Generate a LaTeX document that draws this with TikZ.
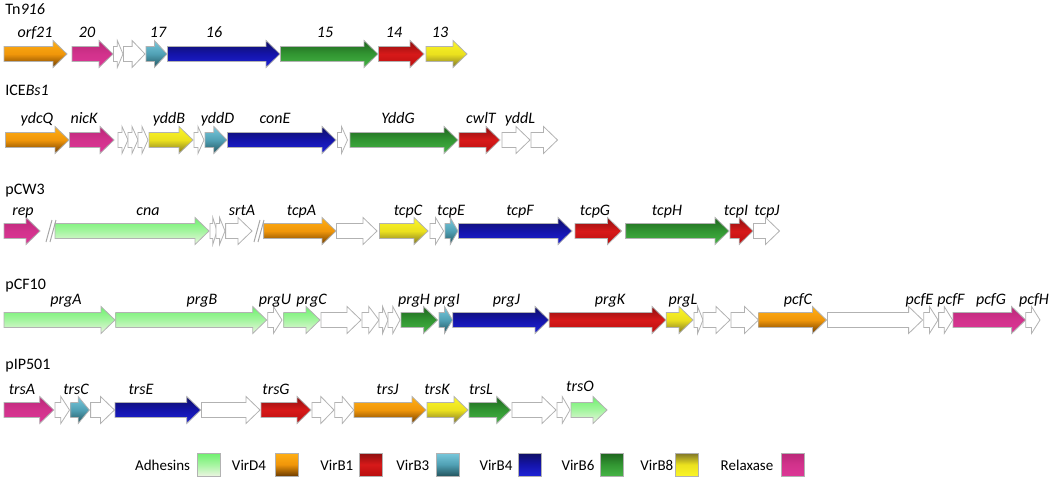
\documentclass[tikz,border=0pt]{standalone}
\usepackage{fontspec}
\setmainfont{Carlito}

\definecolor{adhTop}{RGB}{110,240,110}
\definecolor{adhMid}{RGB}{165,245,160}
\definecolor{adhBot}{RGB}{235,245,225}
\definecolor{dFourTop}{RGB}{255,175,20}
\definecolor{dFourMid}{RGB}{240,150,10}
\definecolor{dFourBot}{RGB}{110,60,0}
\definecolor{bOneTop}{RGB}{140,15,15}
\definecolor{bOneMid}{RGB}{215,25,25}
\definecolor{bOneBot}{RGB}{185,15,15}
\definecolor{bThreeTop}{RGB}{120,200,220}
\definecolor{bThreeMid}{RGB}{80,160,180}
\definecolor{bThreeBot}{RGB}{35,85,95}
\definecolor{bFourTop}{RGB}{15,15,100}
\definecolor{bFourMid}{RGB}{20,20,170}
\definecolor{bFourBot}{RGB}{30,35,215}
\definecolor{bSixTop}{RGB}{30,100,30}
\definecolor{bSixMid}{RGB}{50,150,50}
\definecolor{bSixBot}{RGB}{70,180,70}
\definecolor{bEightTop}{RGB}{250,245,40}
\definecolor{bEightMid}{RGB}{235,225,30}
\definecolor{bEightBot}{RGB}{125,115,40}
\definecolor{relTop}{RGB}{185,40,120}
\definecolor{relMid}{RGB}{210,50,140}
\definecolor{relBot}{RGB}{220,55,150}

% one gene arrow: start, end, row, style
\newcommand{\gene}[4]{%
  \pgfmathsetmacro{\hl}{min(14,0.6*(#2-#1))}%
  \pgfmathsetmacro{\hx}{#2-\hl}%
  \draw[gene,#4] (#1,#3-7.5) -- (\hx,#3-7.5) -- (\hx,#3-13.5) -- (#2,#3)
    -- (\hx,#3+13.5) -- (\hx,#3+7.5) -- (#1,#3+7.5) -- cycle;%
}

\begin{document}
\begin{tikzpicture}[x=0.5pt,y=-0.5pt,font=\fontsize{8}{9.6}\selectfont,
  gene/.style={draw=black!30,line width=0.4pt},
  blank/.style={fill=white,draw=gray!60},
  adhes/.style={top color=adhTop,bottom color=adhBot,middle color=adhMid},
  virD4/.style={top color=dFourTop,bottom color=dFourBot,middle color=dFourMid},
  virB1/.style={top color=bOneTop,bottom color=bOneBot,middle color=bOneMid},
  virB3/.style={top color=bThreeTop,bottom color=bThreeBot,middle color=bThreeMid},
  virB4/.style={top color=bFourTop,bottom color=bFourBot,middle color=bFourMid},
  virB6/.style={top color=bSixTop,bottom color=bSixBot,middle color=bSixMid},
  virB8/.style={top color=bEightTop,bottom color=bEightBot,middle color=bEightMid},
  virB8k/.style={virB8,shading angle=180},
  relax/.style={top color=relTop,bottom color=relBot,middle color=relMid},
  lbl/.style={anchor=base,inner sep=0pt,font=\fontsize{8}{9.6}\selectfont\itshape},
  ttl/.style={anchor=base west,inner sep=0pt},
  cut/.style={draw=gray!70,line width=0.5pt}]

\useasboundingbox (0,0) rectangle (1050,481);

% Tn916
\begin{scope}
\node[ttl] (t1) at (5,15) {Tn\textit{916}};
\foreach \a/\b/\s in {4/67/virD4,72/113/relax,113.5/123/blank,123.5/145/blank,146/167/virB3,
  167.5/280/virB4,280.5/378/virB6,378.5/424/virB1,426/467/virB8}
  \gene{\a}{\b}{54}{\s};
\foreach \x/\t [count=\i] in {35/orf21,87/20,158/17,214/16,325/15,394/14,440/13}
  \node[lbl] (g1-\i) at (\x,38) {\t};
\end{scope}

% ICEBs1
\begin{scope}
\node[ttl] (t2) at (5,96) {ICE\textit{Bs1}};
\foreach \a/\b/\s in {5.5/69/virD4,69.5/114/relax,118/128/blank,128/138/blank,138/148/blank,
  149/193/virB8,194/204/blank,205/227/virB3,227.5/336/virB4,337.5/347.5/blank,
  350/458/virB6,459/500/virB1,502/530/blank,531/557.5/blank}
  \gene{\a}{\b}{140}{\s};
\foreach \x/\t [count=\i] in {37/ydcQ,84/nicK,169/yddB,217.5/yddD,275/conE,398/YddG,481/cwlT,520/yddL}
  \node[lbl] (g2-\i) at (\x,124) {\t};
\end{scope}

% pCW3
\begin{scope}
\node[ttl] (t3) at (5,194) {pCW3};
\foreach \a/\b/\s in {4/40/relax,55/209/adhes,210/217/blank,216/225/blank,225.6/252/blank,
  263.6/336/virD4,336.5/377/blank,379.5/428/virB8,430/443.6/blank,445/458/virB3,
  458.5/572/virB4,575/621.5/virB1,625.6/729/virB6,730/753/virB1,753.5/779.5/blank}
  \gene{\a}{\b}{231}{\s};
\foreach \x/\t [count=\i] in {23/rep,148/cna,242/srtA,301.5/tcpA,408/tcpC,451/tcpE,520/tcpF,
  595/tcpG,667/tcpH,736/tcpI,767/tcpJ}
  \node[lbl] (g3-\i) at (\x,215) {\t};
% breaks in the map
\coordinate (c1) at (46,242);
\coordinate (c2) at (254,242);
\foreach \c in {c1,c2}{
  \draw[cut] (\c) -- ++(6,-22);
  \draw[cut] ([xshift=2pt]\c) -- ++(6,-22);
}
\end{scope}

% pCF10
\begin{scope}
\node[ttl] (t4) at (5,289) {pCF10};
\foreach \a/\b/\s in {4/115/adhes,115.7/266.7/adhes,267.7/282/blank,283.7/320/adhes,
  321/361/blank,362/379/blank,379/388/blank,388/400/blank,401/437.6/virB6,439/452.6/virB3,
  452.8/549/virB4,549.2/666/virB1,666.2/693/virB8,694/703/blank,703/730/blank,731/758.5/blank,
  758.7/826.5/virD4,827.5/922.6/blank,923.7/938/blank,938.6/952.6/blank,953/1025.6/relax,
  1025.8/1040/blank}
  \gene{\a}{\b}{320}{\s};
\foreach \x/\t [count=\i] in {66/prgA,202/prgB,275/prgU,311.5/prgC,414/prgH,447/prgI,506.5/prgJ,
  610/prgK,683/prgL,798/pcfC,919.5/pcfE,951/pcfF,991/pcfG,1034/pcfH}
  \node[lbl] (g4-\i) at (\x,304) {\t};
\end{scope}

% pIP501
\begin{scope}
\node[ttl] (t5) at (5,369) {pIP501};
\foreach \a/\b/\s in {4/53.7/relax,55/69.5/blank,70.7/89.4/virB3,90.6/114.5/blank,
  115/200.7/virB4,201.5/260/blank,261/311/virB1,312/334/blank,334.7/353.7/blank,
  354/426/virD4,427/468/virB8,469/510.7/virB6,512/556/blank,557/570/blank,571/607/adhes}
  \gene{\a}{\b}{410}{\s};
\foreach \x/\t [count=\i] in {22/trsA,76/trsC,141/trsE,276/trsG,387.5/trsJ,437/trsK,481/trsL}
  \node[lbl] (g5-\i) at (\x,394) {\t};
\node[lbl] (g5-8) at (580,391) {trsO};
\end{scope}

% legend
\foreach \t/\tx/\bx/\s [count=\i] in {Adhesins/162.6/197/adhes,VirD4/249/275.7/virD4,
  VirB1/336.8/359/virB1,VirB3/412.8/436/virB3,VirB4/496/518/virB4,VirB6/578/600/virB6,
  VirB8/656.8/675.4/virB8k,Relaxase/747/781.7/relax}{
  \node[anchor=base,inner sep=0pt,font=\fontsize{7.5}{9}\selectfont] (k\i) at (\tx,470) {\t};
  \draw[gene,\s] (\bx,453) rectangle ++(23,23);
}

\end{tikzpicture}
\end{document}
